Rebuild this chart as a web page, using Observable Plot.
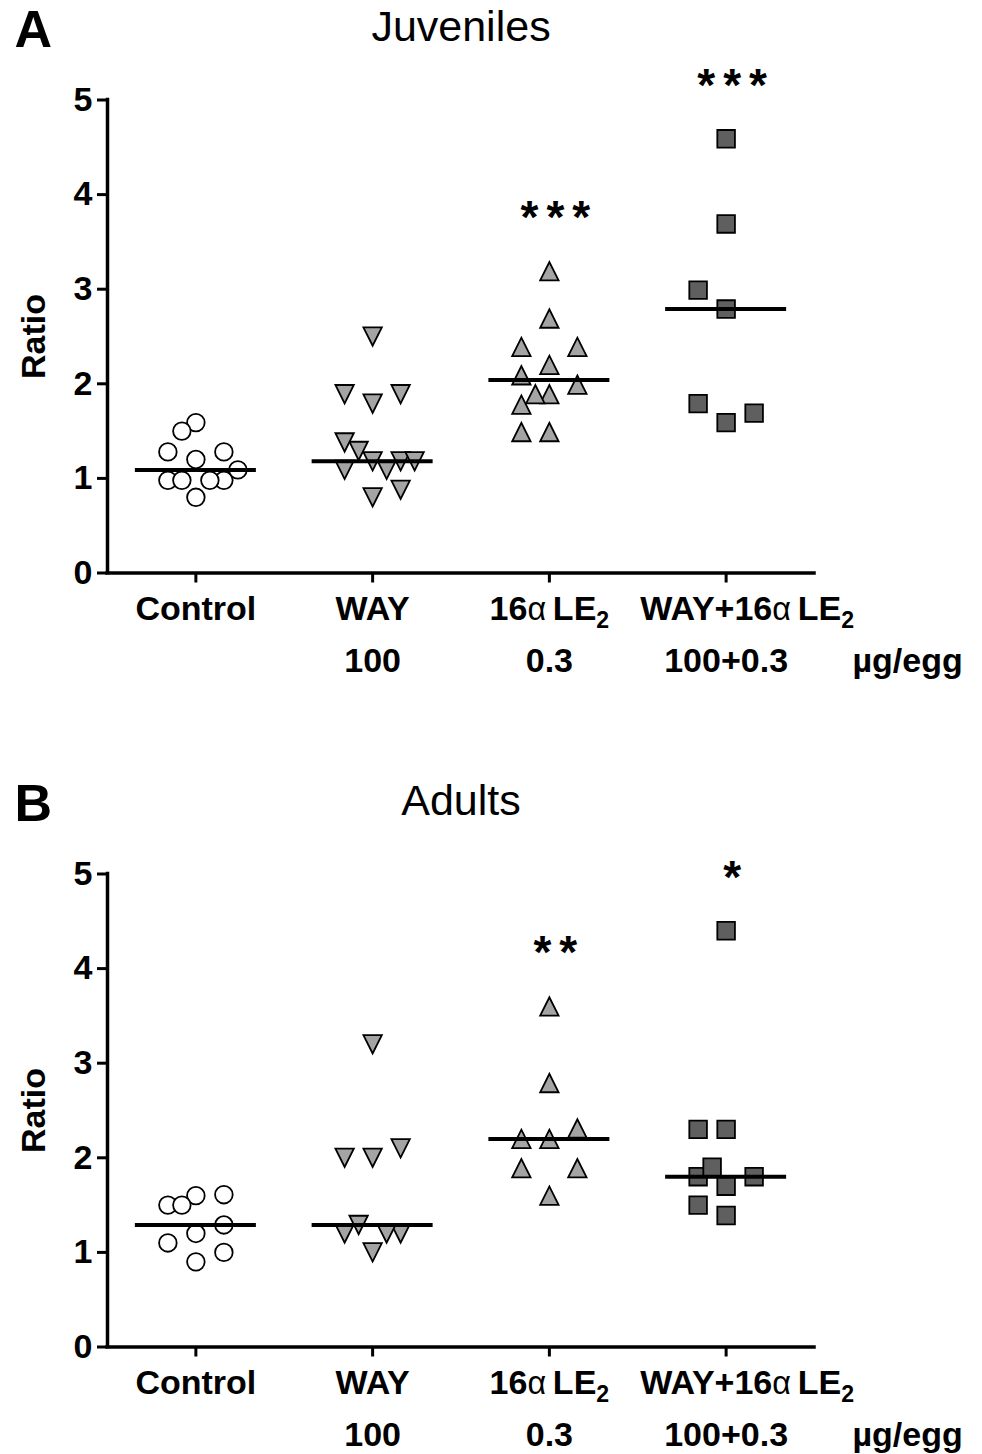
<!DOCTYPE html>
<html>
<head>
<meta charset="utf-8">
<script src="https://cdn.jsdelivr.net/npm/d3@7"></script>
<script src="https://cdn.jsdelivr.net/npm/@observablehq/plot@0.6"></script>
<style>
  body { margin: 0; background: #ffffff; }
  #wrap { position: relative; width: 982px; height: 1454px; background: #ffffff; }
  #wrap svg { position: absolute; left: 0; overflow: visible; }
</style>
</head>
<body>
<div id="wrap"></div>
<script>
// ---------- data ----------
const groups = ["Control", "WAY", "16αLE₂", "WAY+16αLE₂"];
const doses = ["", "100", "0.3", "100+0.3"];
const doseUnit = "µg/egg";
const yTicks = [0, 1, 2, 3, 4, 5];

// Panel A – Juveniles (values in data-entry order)
const juvControl = [0.80, 1.20, 1.59, 0.98, 0.98, 0.98, 0.98, 1.28, 1.28, 1.50, 1.09];
const juvWAY = [0.80, 1.18, 1.79, 2.50, 1.89, 1.89, 1.09, 1.18, 0.88, 1.29, 1.09, 1.38, 1.18];
const juvLE2 = [1.49, 1.89, 2.20, 2.69, 3.19, 2.39, 2.39, 2.09, 1.78, 1.99, 1.89, 1.49];
const juvWAYLE2 = [1.59, 2.79, 3.69, 4.59, 1.79, 1.69, 2.99];
const juvStars = ["", "", "***", "***"];

// Panel B – Adults
const adControl = [0.90, 1.20, 1.60, 1.10, 1.00, 1.29, 1.50, 1.61, 1.50];
const adWAY = [1.00, 2.00, 3.20, 1.20, 1.20, 2.00, 2.10, 1.29, 1.20];
const adLE2 = [1.60, 2.20, 2.79, 3.60, 1.89, 1.89, 2.20, 2.31];
const adWAYLE2 = [1.39, 1.70, 2.30, 4.40, 1.80, 1.80, 1.50, 2.30, 1.90];
const adStars = ["", "", "**", "*"];

// ---------- drawing ----------
const FONT = "'Liberation Sans', Arial, Helvetica, sans-serif";
const STEP = 14 / 176.75;   // horizontal scatter step, in category units
const HALF = 60.5 / 176.75; // half-length of the median line

const triDown = { draw(ctx, size) { const r = Math.sqrt(size / Math.PI); ctx.moveTo(-r, -r); ctx.lineTo(r, -r); ctx.lineTo(0, r); ctx.closePath(); } };
const triUp = { draw(ctx, size) { const r = Math.sqrt(size / Math.PI); ctx.moveTo(-r, r); ctx.lineTo(r, r); ctx.lineTo(0, -r); ctx.closePath(); } };
const square = { draw(ctx, size) { const r = Math.sqrt(size / Math.PI); ctx.rect(-r, -r, 2 * r, 2 * r); } };
const symbolStyles = [
  { symbol: "circle", fill: "#ffffff", r: 8.8 },
  { symbol: triDown, fill: "#a4a4a4", r: 9.2 },
  { symbol: triUp, fill: "#a4a4a4", r: 9.2 },
  { symbol: square, fill: "#5f5f5f", r: 8.8 }
];

// GraphPad-like column scatter: each point takes the first free slot
function scatter(values, gi) {
  const cand = [0, -2, 2, -1, 1, 3, -3];
  const placed = [];
  for (const v of values) {
    let col = null;
    for (const c of cand) {
      const T = c === 0 ? 0.295 : 0.225;
      if (!placed.some(p => p.col === c && Math.abs(p.v - v) < T)) { col = c; break; }
    }
    if (col === null) col = 0;
    placed.push({ v, col });
  }
  return placed.map(p => ({ g: gi, value: p.v, x: gi + p.col * STEP }));
}

function panel(letter, title, series, stars, height) {
  const marks = [];
  const meds = series.map((vals, i) => ({ i, m: d3.median(vals) }));
  const starRows = series.map((vals, i) => ({ i, s: stars[i], y: d3.max(vals) + 0.56 })).filter(d => d.s);

  marks.push(Plot.ruleY([0], { strokeWidth: 3.5, strokeLinecap: "square" }));
  marks.push(Plot.ruleX([-0.5], { strokeWidth: 3.5, strokeLinecap: "square" }));
  marks.push(Plot.axisX({ ticks: [0, 1, 2, 3], tickSize: 10, strokeWidth: 3, tickFormat: () => "", label: null }));
  marks.push(Plot.axisY({ ticks: yTicks, tickSize: 10, tickPadding: 5, strokeWidth: 3, fontSize: 34, fontWeight: "bold", label: null, tickFormat: d3.format("d") }));

  series.forEach((vals, i) => {
    marks.push(Plot.dot(scatter(vals, i), {
      x: "x", y: "value", r: symbolStyles[i].r,
      symbol: symbolStyles[i].symbol, fill: symbolStyles[i].fill,
      stroke: "black", strokeWidth: 1.8
    }));
  });

  marks.push(Plot.ruleY(meds, { y: "m", x1: d => d.i - HALF, x2: d => d.i + HALF, strokeWidth: 4 }));
  marks.push(Plot.text(starRows, { x: "i", y: "y", text: "s", fontSize: 46, lineAnchor: "middle", dx: 10 }));

  // category labels (two lines) + dose unit
  const firstLabels = groups.map((g, i) => ({ i, g })).slice(0, 3);
  marks.push(Plot.text(firstLabels, { x: "i", text: "g", frameAnchor: "bottom", dy: 36.5, lineAnchor: "middle", fontSize: 34 }));
  marks.push(Plot.text([{ i: 3, g: groups[3] }], { x: "i", text: "g", frameAnchor: "bottom", dy: 36.5, dx: 21, lineAnchor: "middle", fontSize: 34 }));
  marks.push(Plot.text(doses.map((d, i) => ({ i, d })), { x: "i", text: "d", frameAnchor: "bottom", dy: 88.5, lineAnchor: "middle", fontSize: 34 }));
  marks.push(Plot.text([doseUnit], { frameAnchor: "bottom-right", textAnchor: "start", dx: 38, dy: 88.5, lineAnchor: "middle", fontSize: 34 }));

  // y label, title, panel letter
  marks.push(Plot.text(["Ratio"], { frameAnchor: "left", textAnchor: "middle", dx: -73, rotate: -90, lineAnchor: "middle", fontSize: 34 }));
  marks.push(Plot.text([title], { frameAnchor: "top", dy: -89.5, lineAnchor: "top", fontSize: 43, fontWeight: "normal" }));
  marks.push(Plot.text([letter], { frameAnchor: "top-left", textAnchor: "start", dx: -93, dy: -89.5, lineAnchor: "top", fontSize: 52 }));

  const svg = Plot.plot({
    width: 982,
    height,
    marginTop: 99.5,
    marginBottom: height - 572.5,
    marginLeft: 107,
    marginRight: 168,
    x: { type: "linear", domain: [-0.5, 3.5], axis: null },
    y: { domain: [0, 5], axis: null },
    style: { fontFamily: FONT, fontWeight: "bold", fontSize: "34px", color: "black", background: "transparent", overflow: "visible" },
    marks
  });

  // subscript "2" and the Greek alpha in the treatment labels
  d3.select(svg).selectAll("text").each(function () {
    const t = this.textContent;
    if (t.indexOf("αLE₂") < 0) return;
    const pre = t.slice(0, t.indexOf("α"));
    const sel = d3.select(this);
    sel.text(null);
    sel.append("tspan").text(pre);
    sel.append("tspan").attr("font-weight", "normal").attr("font-size", "0.95em").text("α");
    sel.append("tspan").text("\u2009LE");
    sel.append("tspan").attr("dy", "0.35em").attr("font-size", "0.68em").text("2");
  });
  d3.select(svg).selectAll("text").filter(function () { return /^\*+$/.test(this.textContent); })
    .style("letter-spacing", "8px");
  return svg;
}

const wrap = document.getElementById("wrap");
const svgA = panel("A", "Juveniles", [juvControl, juvWAY, juvLE2, juvWAYLE2], juvStars, 700);
svgA.style.top = "0px";
wrap.appendChild(svgA);
const svgB = panel("B", "Adults", [adControl, adWAY, adLE2, adWAYLE2], adStars, 680);
svgB.style.top = "774px";
wrap.appendChild(svgB);
</script>
</body>
</html>
